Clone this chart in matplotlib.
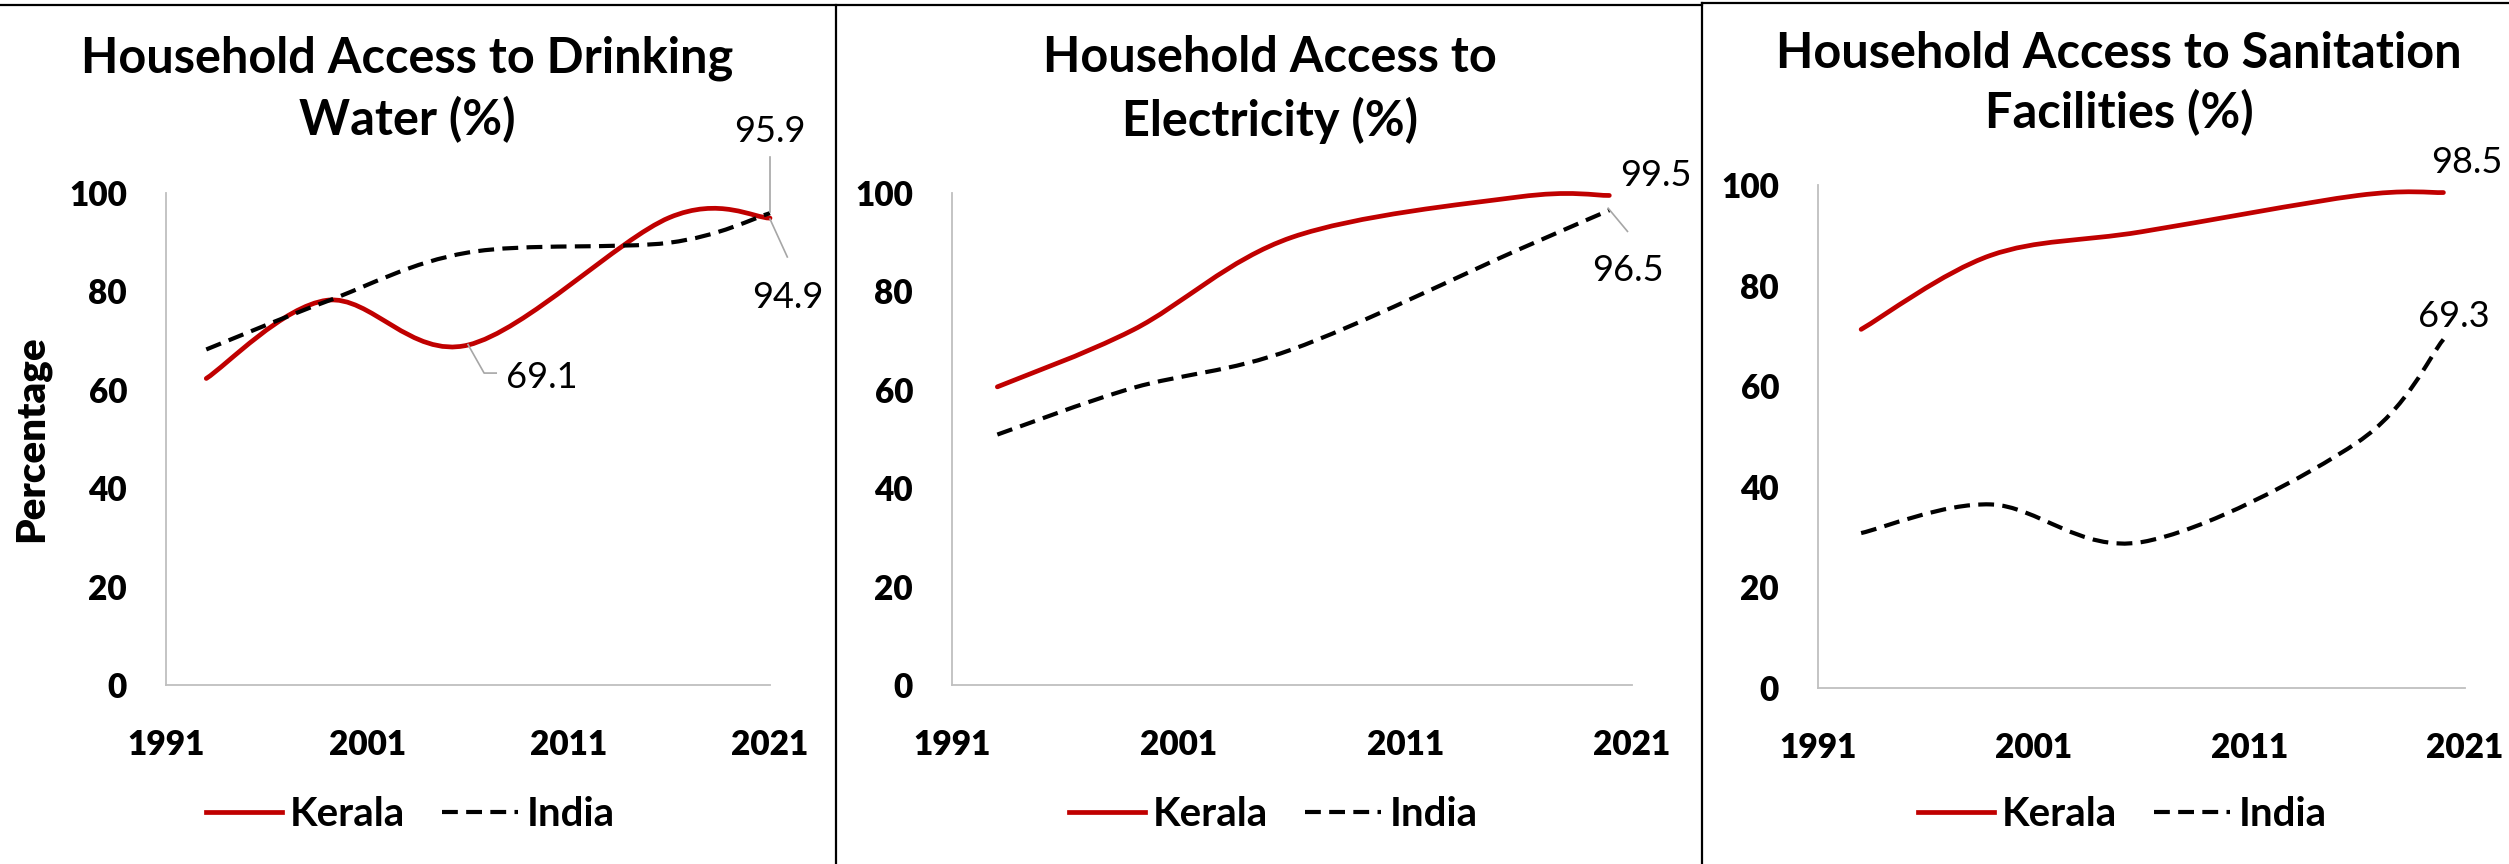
import numpy as np
import matplotlib
matplotlib.use("Agg")
import matplotlib.pyplot as plt
from matplotlib.path import Path
from matplotlib.patches import PathPatch
from matplotlib.lines import Line2D

plt.rcParams['font.family'] = ['Lato', 'DejaVu Sans']

W, H = 2509, 864

# survey rounds (x positions)
years_water = [1993, 1999, 2006, 2016, 2021]
years_other = [1993, 1999, 2006, 2016, 2020]

kerala_water = [62.3, 78.2, 69.1, 95.0, 94.9]
india_water = [68.2, 78.0, 87.9, 89.9, 95.9]

kerala_elec = [60.6, 72.2, 91.0, 99.2, 99.5]
india_elec = [50.9, 60.4, 68.2, 88.5, 96.5]

kerala_san = [71.3, 86.0, 90.7, 97.9, 98.5]
india_san = [30.8, 36.5, 29.0, 48.8, 69.3]

titles = ["Household Access to Drinking\nWater (%)",
          "Household Access to\nElectricity (%)",
          "Household Access to Sanitation\nFacilities (%)"]
xticks = [1991, 2001, 2011, 2021]
yticks = [0, 20, 40, 60, 80, 100]

RED = '#C00000'
GREY = '#BFBFBF'
DASH = (0, (3.8, 2.0))


def rect(left, right, top, bottom):
    return [left / W, 1 - bottom / H, (right - left) / W, (bottom - top) / H]


def smooth_path(xs, ys, sx, sy):
    # excel-style smoothed line: cubic bezier through the points (catmull-rom, 1/6)
    P = np.column_stack([np.array(xs, float) * sx, np.array(ys, float) * sy])
    n = len(P)
    verts = [P[0]]
    codes = [Path.MOVETO]
    for i in range(n - 1):
        p0 = P[i - 1] if i > 0 else P[i]
        p3 = P[i + 2] if i + 2 < n else P[i + 1]
        c1 = P[i] + (P[i + 1] - p0) / 6.0
        c2 = P[i + 1] - (p3 - P[i]) / 6.0
        verts += [c1, c2, P[i + 1]]
        codes += [Path.CURVE4] * 3
    verts = np.array(verts)
    verts[:, 0] /= sx
    verts[:, 1] /= sy
    return Path(verts, codes)


fig = plt.figure(figsize=(W / 100, H / 100), dpi=100)

panels = [
    (rect(166, 770, 193, 685), years_water, kerala_water, india_water, 410),
    (rect(952, 1632, 193, 685), years_other, kerala_elec, india_elec, 1273),
    (rect(1818, 2465, 185, 688), years_other, kerala_san, india_san, 2122),
]
title_x = [407, 1270, 2119]
title_y = [[58, 120], [58, 120], [53, 113]]

axes = []
for k, (r, yrs, ker, ind, legx) in enumerate(panels):
    ax = fig.add_axes(r)
    axes.append(ax)
    ax.set_xlim(1991, 2021)
    ax.set_ylim(0, 100)
    sx = r[2] * W / 30.0
    sy = r[3] * H / 100.0
    kp = PathPatch(smooth_path(yrs, ker, sx, sy), fill=False, edgecolor=RED,
                   lw=3.4, capstyle='round', joinstyle='round', clip_on=False)
    ip = PathPatch(smooth_path(yrs, ind, sx, sy), fill=False, edgecolor='black',
                   lw=3.0, linestyle=DASH, clip_on=False)
    ax.add_patch(kp)
    ax.add_patch(ip)
    for s in ['top', 'right']:
        ax.spines[s].set_visible(False)
    for s in ['left', 'bottom']:
        ax.spines[s].set_color(GREY)
        ax.spines[s].set_linewidth(1.3)
    ax.set_xticks(xticks)
    ax.set_yticks(yticks)
    ax.tick_params(length=0, labelsize=24)
    ax.tick_params(axis='y', pad=28)
    ax.tick_params(axis='x', pad=32)
    for lab in ax.get_xticklabels() + ax.get_yticklabels():
        lab.set_fontweight('heavy')

    # title, two lines
    lines = titles[k].split("\n")
    for j, t in enumerate(lines):
        fig.text(title_x[k] / W, 1 - title_y[k][j] / H, t, ha='center', va='center',
                 fontsize=35, fontweight='bold')

    # legend
    h1 = Line2D([], [], color=RED, lw=3.4)
    h2 = Line2D([], [], color='black', lw=3.0, linestyle=DASH)
    fig.legend([h1, h2], ['Kerala', 'India'], loc='center',
               bbox_to_anchor=(legx / W, 1 - 815 / H), ncol=2, frameon=False,
               prop={'weight': 'bold', 'size': 29}, handlelength=1.9,
               handletextpad=0.2, columnspacing=0.9)

axes[0].set_ylabel('Percentage', fontsize=29, fontweight='heavy', labelpad=14)

# data labels and leader lines
lab_kw = dict(fontsize=26, ha='center', va='center')
LEAD = '#A6A6A6'
ax = axes[0]
ax.plot([2006.0, 2006.8, 2007.4], [69.2, 63.4, 63.4], color=LEAD, lw=1.2, clip_on=False)
ax.text(2007.9, 62.5, '69.1', fontsize=26, ha='left', va='center')
ax.plot([2021, 2021], [96.2, 107.3], color=LEAD, lw=1.2, clip_on=False)
ax.text(2021, 112.4, '95.9', **lab_kw)
ax.plot([2021, 2021.86], [94.7, 87.0], color=LEAD, lw=1.2, clip_on=False)
ax.text(2021.9, 78.8, '94.9', **lab_kw)

ax = axes[1]
ax.plot([2019.95, 2020.8], [96.9, 92.2], color=LEAD, lw=1.2, clip_on=False)
ax.text(2020.8, 84.3, '96.5', **lab_kw)
ax.text(2022.05, 103.6, '99.5', **lab_kw)

ax = axes[2]
ax.text(2021.1, 104.5, '98.5', **lab_kw)
ax.text(2020.5, 73.8, '69.3', **lab_kw)

# panel borders
for seg in [((0, 1702), (5, 5)), ((1702, W), (3, 3)), ((836, 836), (5, H)), ((1702, 1702), (3, H))]:
    xs = [v / W for v in seg[0]]
    ys = [1 - v / H for v in seg[1]]
    fig.add_artist(Line2D(xs, ys, color='black', lw=1.6, transform=fig.transFigure))

fig.savefig('out.png', dpi=100)
